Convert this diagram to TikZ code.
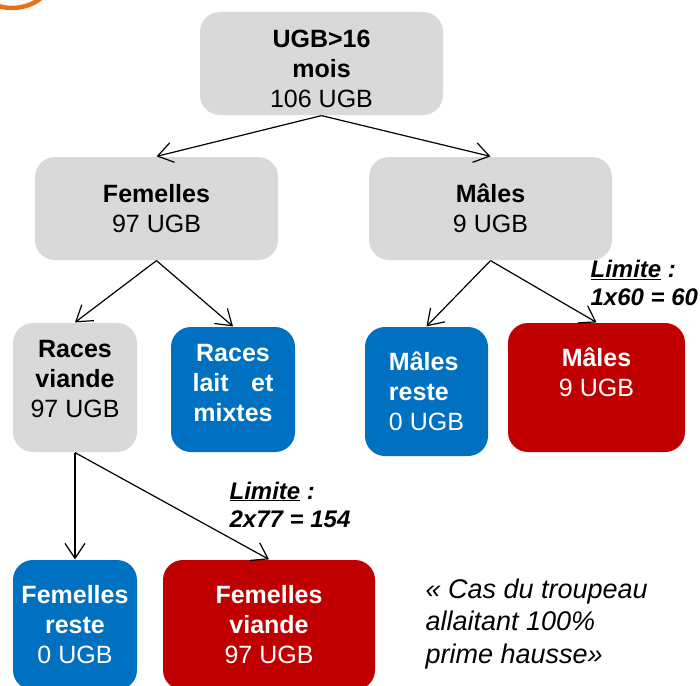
\documentclass[tikz,border=0pt]{standalone}
\usepackage{fontspec}
\setmainfont{Liberation Sans}
\usetikzlibrary{arrows.meta}
\definecolor{gris}{RGB}{217, 217, 217}
\definecolor{bleu}{RGB}{0, 112, 192}
\definecolor{rouge}{RGB}{192, 0, 0}
\definecolor{orangevif}{RGB}{233, 113, 18}

\begin{document}
\begin{tikzpicture}[x=1pt, y=-1pt, >={Straight Barb[length=15pt, width=20pt]}, line width=1.2pt,
        boite/.style={rounded corners=20pt, align=center, inner sep=0pt, font=\fontsize{25}{30}\selectfont},
        grise/.style={boite, fill=gris, text=black},
        bleue/.style={boite, fill=bleu, text=white},
        rougeb/.style={boite, fill=rouge, text=white},
        limite/.style={anchor=north west, align=left, inner sep=0pt, font=\fontsize{24}{28}\selectfont\bfseries\itshape}]
                \useasboundingbox (0,0) rectangle (700,685);

                % arc orange dans le coin
                \draw[orangevif, line width=4.5pt] (12,-40) circle (48pt);

                % troupeau
                \node[grise, minimum width=243pt, minimum height=103pt] (ugb) at (321.5,63.5) {\rule{0pt}{28pt}\textbf{UGB>16}\\\textbf{mois}\\106 UGB};

                % femelles et males
                \node[grise, minimum width=243pt, minimum height=103pt] (fem) at (156.5,208.5) {\textbf{Femelles}\\97 UGB};
                \node[grise, minimum width=243pt, minimum height=103pt] (mal) at (490.5,208.5) {\textbf{Mâles}\\9 UGB};

                % races
                \node[grise, minimum width=124pt, minimum height=129pt] (rviande) at (75,387.5) {\textbf{Races}\\\textbf{viande}\\97 UGB\rule[-18pt]{0pt}{18pt}};
                \node[bleue, minimum width=124pt, minimum height=125pt] (rlait) at (233,389.5) {\textbf{Races}\\\textbf{lait\hspace{0.9em}et}\\\textbf{mixtes}\rule[-14pt]{0pt}{14pt}};

                % males
                \node[bleue, align=left, minimum width=123pt, minimum height=129pt] (mreste) at (426.5,391.5) {\textbf{Mâles}\\\textbf{reste}\\0 UGB};
                \node[rougeb, minimum width=177pt, minimum height=129pt] (mprime) at (596.5,387.5) {\textbf{Mâles}\\9 UGB\\\mbox{}};

                % femelles viande
                \node[bleue, minimum width=124pt, minimum height=130pt] (freste) at (75,625) {\textbf{Femelles}\\\textbf{reste}\\0 UGB};
                \node[rougeb, minimum width=212pt, minimum height=130pt] (fviande) at (269,625) {\textbf{Femelles}\\\textbf{viande}\\97 UGB};

                % limites
                \node[limite] (limmal) at (590,260) {\underline{Limite} :\\1x60 = 60};
                \node[limite] (limfem) at (229,481) {\underline{Limite} :\\2x77 = 154};

                % cas
                \node[anchor=north west, align=left, inner sep=0pt, font=\fontsize{27}{32.5}\selectfont\itshape] (cas) at (425,578) {« Cas du troupeau\\allaitant 100\%\\prime hausse»};

                % fleches
                \draw[->] (ugb.south) -- (fem.north);
                \draw[->] (ugb.south) -- (mal.north);
                \draw[->] (fem.south) -- (rviande.north);
                \draw[->] (fem.south) -- (rlait.north);
                \draw[->] (mal.south) -- (mreste.north);
                \draw[->] (mal.south) -- (mprime.north);
                \draw[->] (rviande.south) -- (freste.north);
                \draw[->] (rviande.south) -- (fviande.north);
\end{tikzpicture}
\end{document}
